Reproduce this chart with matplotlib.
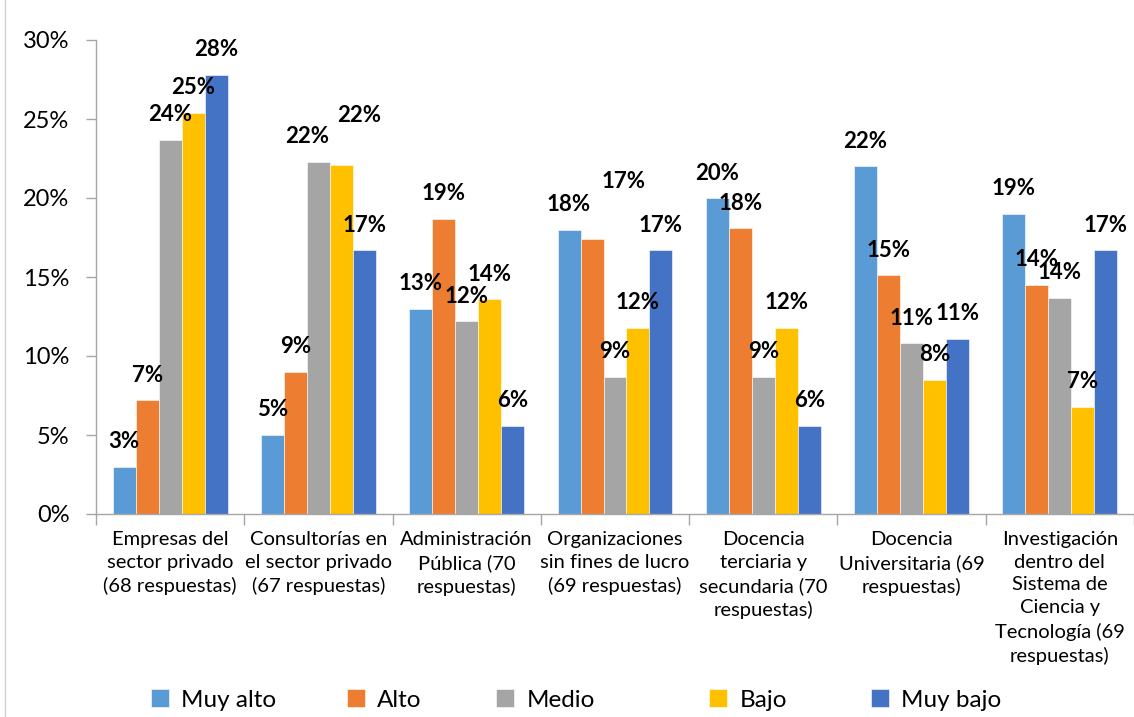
import matplotlib
matplotlib.use("Agg")
import matplotlib.pyplot as plt
from matplotlib.lines import Line2D
import numpy as np

plt.rcParams['font.family'] = ['Lato', 'DejaVu Sans']

categories = [
    "Empresas del\nsector privado\n(68 respuestas)",
    "Consultorías en\nel sector privado\n(67 respuestas)",
    "Administración\nPública (70\nrespuestas)",
    "Organizaciones\nsin fines de lucro\n(69 respuestas)",
    "Docencia\nterciaria y\nsecundaria (70\nrespuestas)",
    "Docencia\nUniversitaria (69\nrespuestas)",
    "Investigación\ndentro del\nSistema de\nCiencia y\nTecnología (69\nrespuestas)",
]

series_names = ["Muy alto", "Alto", "Medio", "Bajo", "Muy bajo"]

muy_alto = [3.0, 5.0, 13.0, 18.0, 20.0, 22.0, 19.0]
alto = [7.2, 9.0, 18.7, 17.4, 18.1, 15.1, 14.5]
medio = [23.7, 22.3, 12.2, 8.7, 8.7, 10.8, 13.7]
bajo = [25.4, 22.1, 13.6, 11.8, 11.8, 8.5, 6.8]
muy_bajo = [27.8, 16.7, 5.6, 16.7, 5.6, 11.1, 16.7]

colors = ["#5B9BD5", "#ED7D31", "#A5A5A5", "#FFC000", "#4472C4"]

# label nudges (in pixels) for a few labels that sit away from their bar
nudges = {(1, 2): (-11, 0), (1, 3): (18, 24), (3, 1): (32, 33)}

W, H = 1134, 717
fig = plt.figure(figsize=(W / 100, H / 100), dpi=100)
ax = fig.add_axes([96 / W, 203 / H, (W - 96) / W, 474 / H])

all_series = [muy_alto, alto, medio, bajo, muy_bajo]
n = len(categories)
x = np.arange(n)
bw = 0.155
handles = []
for i, (name, vals, c) in enumerate(zip(series_names, all_series, colors)):
    pos = x + (i - 2) * bw
    bars = ax.bar(pos, vals, width=bw, color=c, label=name,
                  edgecolor="white", linewidth=0.4)
    handles.append(bars)
    for j, (b, v) in enumerate(zip(bars, vals)):
        dx, dy = nudges.get((j, i), (0, 0))
        ax.annotate(f"{v:.0f}%", (b.get_x() + b.get_width() / 2, v),
                    xytext=(dx, 25 + dy), textcoords="offset pixels",
                    ha="center", va="center", fontsize=16,
                    fontweight="bold", color="black")

ax.set_xlim(-0.5, n - 0.5)
ax.set_ylim(0, 30)
ax.set_yticks(np.arange(0, 31, 5))
ax.set_yticklabels([f"{t}%" for t in range(0, 31, 5)], fontsize=17)
ax.set_xticks(x)
ax.set_xticklabels(categories, fontsize=14.5, linespacing=1.42, va="top")
ax.tick_params(axis="x", length=0, pad=12)
ax.set_xticks(np.arange(-0.5, n, 1.0), minor=True)
ax.tick_params(axis="x", which="minor", length=8, color="#A6A6A6", width=1)
ax.tick_params(axis="y", length=7, color="#A6A6A6", width=1, pad=12)

for s in ["top", "right"]:
    ax.spines[s].set_visible(False)
for s in ["left", "bottom"]:
    ax.spines[s].set_color("#A6A6A6")
    ax.spines[s].set_linewidth(1)

# legend entries laid out one by one along the bottom
legend_x = [151, 347, 496, 709, 871]
for h, name, lx in zip(handles, series_names, legend_x):
    leg = fig.legend([h], [name], loc="center left",
                     bbox_to_anchor=(lx / W, 1 - 700 / H), frameon=False,
                     fontsize=17.5, handlelength=0.75, handleheight=0.75,
                     handletextpad=0.5, borderpad=0, borderaxespad=0)

fig.add_artist(Line2D([4.5 / W, 4.5 / W], [0, 1], color="#D0D0D0", lw=1))

fig.savefig("out.png", dpi=100)
